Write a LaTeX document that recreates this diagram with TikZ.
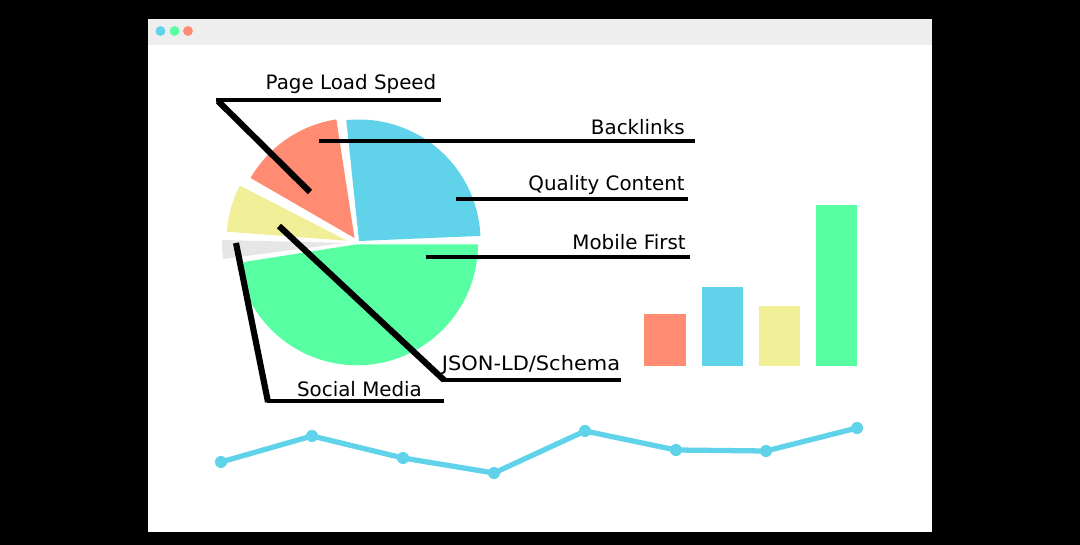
\documentclass[tikz,border=0pt]{standalone}
\usepackage{fontspec}
\usepackage{graphicx}
\setmainfont{DejaVu Sans}
\definecolor{cblue}{HTML}{60D3EA}
\definecolor{cgreen}{HTML}{58FFA2}
\definecolor{cyellow}{HTML}{F0EE96}
\definecolor{corange}{HTML}{FF8C72}
\definecolor{cgrey}{HTML}{E6E6E6}
\definecolor{cbar}{HTML}{EEEEEE}
\tikzset{
  leader/.style={draw=black,line width=2.8pt,line join=bevel,line cap=butt},
  diag/.style={draw=black,line width=3.5pt,line cap=butt},
  lbl/.style={inner sep=0pt,font=\fontsize{11.3pt}{13pt}\selectfont,anchor=base},
  dotn/.style={circle,inner sep=0pt,minimum size=6.9pt,fill=cblue},
  win/.style={circle,inner sep=0pt,minimum size=5.6pt},
}
\begin{document}
\begin{tikzpicture}[x=0.02cm,y=-0.02cm]
\useasboundingbox (0,0) rectangle (1080,545);
\fill[black] (0,0) rectangle (1080,545);
\fill[white] (148,19) rectangle (932,532);
\fill[cbar] (148,19) rectangle (932,45);
\node[win,fill=cblue] (w1) at (160.5,31) {};
\node[win,fill=cgreen] (w2) at (174.5,31) {};
\node[win,fill=corange] (w3) at (188,31) {};
% pie
\fill[cgrey] (345,243) -- plot[domain=181.4:172.5,samples=12] ({345+123*cos(\x)},{243+123*sin(\x)}) -- cycle;
\fill[white] (357,244.3) -- (244,262) -- (236,264) -- (236,259) -- (340,243.5) -- cycle;
\fill[cgreen] (357,244.3) -- plot[domain=0:165,samples=60] ({357+121*cos(\x)},{244.3+121*sin(\x)}) -- (244,262) -- cycle;
\fill[cyellow] (347,240.7) -- plot[domain=-152.8:-175.7,samples=20] ({347+120.5*cos(\x)},{240.7+120.5*sin(\x)}) -- cycle;
\fill[corange] (354.5,238) -- plot[domain=-98.7:-150,samples=30] ({354.5+120*cos(\x)},{238+120*sin(\x)}) -- cycle;
\fill[cblue] (359,241) -- plot[domain=-96:-2.4,samples=60] ({359+121.5*cos(\x)},{241+121.5*sin(\x)}) -- cycle;
% bars
\fill[corange] (644,314) rectangle (686,366);
\fill[cblue] (702,287) rectangle (743,366);
\fill[cyellow] (759,306) rectangle (800,366);
\fill[cgreen] (816,205) rectangle (857,366);
% line chart
\node[dotn] (p1) at (221,462) {};
\node[dotn] (p2) at (312,436) {};
\node[dotn] (p3) at (403,458) {};
\node[dotn] (p4) at (494,473) {};
\node[dotn] (p5) at (585,431) {};
\node[dotn] (p6) at (676,450) {};
\node[dotn] (p7) at (766,451) {};
\node[dotn] (p8) at (857,428) {};
\draw[cblue,line width=3pt,line join=round] (p1.center) -- (p2.center) -- (p3.center) -- (p4.center) -- (p5.center) -- (p6.center) -- (p7.center) -- (p8.center);
% labels
\node[lbl] (t1) at (351,89) {Page Load Speed};
\node[lbl,anchor=base east] (t2) at (685,134) {Backlinks};
\node[lbl,anchor=base east] (t3) at (685,190) {Quality Content};
\node[lbl,anchor=base east] (t4) at (686,249) {Mobile First};
\node[lbl,anchor=base east] (t5) at (620.5,370) {\scalebox{1.055}[1]{JSON-LD/Schema}};
\node[lbl] (t6) at (359.5,396) {Social Media};
% leaders
\coordinate (a1) at (310,192); \coordinate (b1) at (218,101); \coordinate (b1h) at (216,100); \coordinate (c1) at (441,100);
\draw[diag] (a1) -- (b1);
\draw[leader] (b1h) -- (c1);
\coordinate (a2) at (319,141); \coordinate (c2) at (695,141);
\draw[leader] (a2) -- (c2);
\coordinate (a3) at (456,199); \coordinate (c3) at (688,199);
\draw[leader] (a3) -- (c3);
\coordinate (a4) at (426,257); \coordinate (c4) at (690,257);
\draw[leader] (a4) -- (c4);
\coordinate (a5) at (279,226); \coordinate (b5) at (444,380); \coordinate (b5h) at (442,380); \coordinate (c5) at (621,380);
\draw[diag] (a5) -- (b5);
\draw[leader] (b5h) -- (c5);
\coordinate (a6) at (236,243); \coordinate (b6) at (268,402); \coordinate (b6h) at (267,401); \coordinate (c6) at (444,401);
\draw[diag] (a6) -- (b6);
\draw[leader] (b6h) -- (c6);
\end{tikzpicture}
\end{document}
